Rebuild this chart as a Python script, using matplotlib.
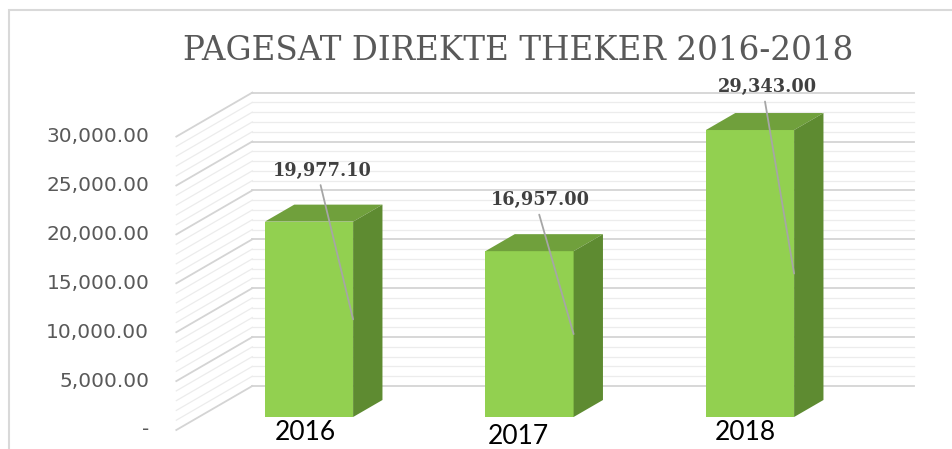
import matplotlib
matplotlib.use("Agg")
import matplotlib.pyplot as plt
from matplotlib.patches import Polygon, Rectangle
from matplotlib.transforms import Affine2D

# dados
anos = ["2016", "2017", "2018"]
pagesat = [19977.10, 16957.00, 29343.00]
y_ticks = [0, 5000, 10000, 15000, 20000, 25000, 30000]
y_tick_labels = ["-", "5,000.00", "10,000.00", "15,000.00", "20,000.00", "25,000.00", "30,000.00"]
titulo = "PAGESAT DIREKTE THEKER 2016-2018"

COR_FRENTE = "#92D050"
COR_TOPO = "#70A03C"
COR_LADO = "#5E8B31"
SLANT = 1.727  # px em x para cada px de profundidade

fig = plt.figure(figsize=(9.52, 4.49), dpi=100)
ax = fig.add_axes([198.75 / 952, 32 / 449, 661.5 / 952, 293.4 / 449])
ax.set_xlim(-0.5, 2.5)
ax.set_ylim(0, 30000)
ax.axis("off")


def prof(d, ex=0.0, ey=0.0):
    """transformacao de dados deslocada em profundidade (pixels)"""
    return ax.transData + Affine2D().translate(d * SLANT + ex, d + ey)


def desloca(pts, d):
    disp = ax.transData.transform(pts)
    disp[:, 0] += d * SLANT
    disp[:, 1] += d
    return ax.transData.inverted().transform(disp)


# grade: parede do fundo e parede lateral
D_FUNDO, D_CHAO, D_BARRA = 31, -13, 17
for v in range(0, 30001, 1000):
    major = v % 5000 == 0
    cor = "#d4d4d4" if major else "#ececec"
    lw = 1.3 if major else 0.9
    ax.plot([-0.5, 2.5], [v, v], color=cor, lw=lw, transform=prof(D_FUNDO),
            clip_on=False, zorder=1)
    p0 = desloca([[-0.5, v]], D_CHAO)[0]
    p1 = desloca([[-0.5, v]], D_FUNDO)[0]
    ax.plot([p0[0], p1[0]], [p0[1], p1[1]], color=cor, lw=lw, clip_on=False, zorder=1)

# rotulos do eixo y
for v, lab in zip(y_ticks, y_tick_labels):
    ax.text(-0.5, v, lab, transform=prof(D_CHAO, ex=-27), ha="right", va="center",
            fontsize=14.5, color="#595959", family="DejaVu Sans")

# barras 3D
largura = 0.4
xs = list(range(len(anos)))
ax.bar(xs, pagesat, width=largura, color=COR_FRENTE, zorder=3, clip_on=False)
for x, v in zip(xs, pagesat):
    esq, dir_ = x - largura / 2, x + largura / 2
    frente_topo = [[esq, v], [dir_, v]]
    tras_topo = desloca([[dir_, v], [esq, v]], D_BARRA)
    ax.add_patch(Polygon(list(frente_topo) + list(tras_topo), closed=True,
                         facecolor=COR_TOPO, edgecolor="none", zorder=3, clip_on=False))
    lado_frente = [[dir_, 0], [dir_, v]]
    lado_tras = desloca([[dir_, v], [dir_, 0]], D_BARRA)
    ax.add_patch(Polygon(list(lado_frente) + list(lado_tras), closed=True,
                         facecolor=COR_LADO, edgecolor="none", zorder=3, clip_on=False))

# rotulos de valores com linhas de chamada
desl_rotulo = [(13, 51), (10.5, 51), (17.5, 43)]
for x, v, (dx, dy) in zip(xs, pagesat, desl_rotulo):
    ax.annotate(f"{v:,.2f}", xy=(x + largura / 2, v / 2), xycoords="data",
                xytext=(x, v), textcoords=ax.transData + Affine2D().translate(dx, dy),
                ha="center", va="center", fontsize=12.8, fontweight="bold",
                family="DejaVu Serif", color="#404040", zorder=5,
                arrowprops=dict(arrowstyle="-", color="#a6a6a6", lw=1.3,
                                shrinkB=0, relpos=(0.45, 0.5)))

# rotulos das categorias
desl_cat = [(-4, -15.5), (-11, -19), (-5, -15)]
for x, lab, (dx, dy) in zip(xs, anos, desl_cat):
    ax.text(x, 0, lab, transform=ax.transData + Affine2D().translate(dx, dy),
            ha="center", va="center", fontsize=19, family="Lato", color="black")

# titulo
fig.text(518 / 952, 1 - 51 / 449, titulo, ha="center", va="center",
         fontsize=23.5, family="DejaVu Serif", color="#595959")

# moldura
fig.add_artist(Rectangle((8.5 / 952, -0.1), 1.2, 1.1 - 10.5 / 449, transform=fig.transFigure,
                         fill=False, edgecolor="#d9d9d9", lw=1.5))

fig.savefig("out.png", dpi=100)
